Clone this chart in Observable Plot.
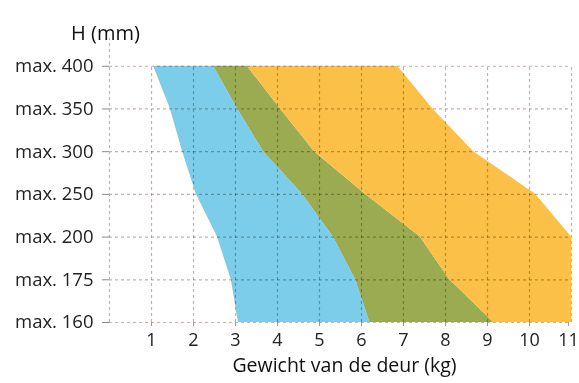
<!DOCTYPE html>
<html>
<head>
<meta charset="utf-8">
<script src="https://cdn.jsdelivr.net/npm/d3@7"></script>
<script src="https://cdn.jsdelivr.net/npm/@observablehq/plot@0.6"></script>
<style>
  html, body { margin: 0; padding: 0; background: #fff; }
  svg { display: block; }
</style>
</head>
<body>
<div id="chart"></div>
<script>
// Height categories, bottom to top
const levels = ["max. 160", "max. 175", "max. 200", "max. 250", "max. 300", "max. 350", "max. 400"];
// Band boundaries (door weight, kg) at each level
const blueLeft   = [3.07, 2.90, 2.57, 2.07, 1.74, 1.45, 1.05];
const greenLeft  = [6.20, 5.86, 5.33, 4.60, 3.67, 3.05, 2.48];
const orangeLeft = [9.15, 8.10, 7.40, 6.10, 4.88, 4.07, 3.28];
const orangeRight = [11, 11, 11, 10.15, 8.67, 7.70, 6.86];
const xTicks = [1, 2, 3, 4, 5, 6, 7, 8, 9, 10, 11];
const xLabel = "Gewicht van de deur (kg)";
const yLabel = "H (mm)";

const rows = levels.map((l, i) => ({
  i, bl: blueLeft[i], gl: greenLeft[i], ol: orangeLeft[i], or: orangeRight[i]
}));
const idx = levels.map((_, i) => i);
const gridColor = "#c4b3ab";
const font = "'Open Sans', Lato, sans-serif";

const chart = Plot.plot({
  width: 579,
  height: 383,
  marginLeft: 109,
  marginRight: 8,
  marginTop: 38,
  marginBottom: 61,
  style: { fontFamily: font, color: "#222", background: "#fff" },
  x: { domain: [0, 11], label: null },
  y: { domain: [0, 6.65], label: null },
  marks: [
    Plot.areaX(rows, { y: "i", x1: "bl", x2: "gl", fill: "#7ccde9" }),
    Plot.areaX(rows, { y: "i", x1: "gl", x2: "ol", fill: "#9aab52" }),
    Plot.areaX(rows, { y: "i", x1: "ol", x2: "or", fill: "#fbc048" }),
    Plot.ruleY(idx, { x1: 0, x2: 11, stroke: gridColor, strokeDasharray: "3,3", mixBlendMode: "multiply", strokeWidth: 1.2 }),
    Plot.ruleX(xTicks, { y1: 0, y2: 6, stroke: gridColor, strokeDasharray: "3,3", mixBlendMode: "multiply", strokeWidth: 1.2 }),
    Plot.ruleX([0], { y1: 0, y2: 6.65, stroke: gridColor, strokeDasharray: "3,3", strokeWidth: 1.2 }),
    Plot.axisY({ ticks: idx, tickFormat: i => levels[i], tickSize: 7, tickPadding: 9, fontSize: 18.5, stroke: "#8a8a8a", label: null }),
    Plot.axisX({ ticks: xTicks.slice(0, -1), tickFormat: d => d, tickSize: 4, tickPadding: 7, fontSize: 18, stroke: "#9a9a9a", label: null }),
    Plot.axisX({ ticks: xTicks.slice(-1), tickFormat: d => d, tickSize: 4, tickPadding: 7, fontSize: 18, stroke: "#9a9a9a", label: null, dx: -3 }),
    Plot.text([xLabel], { frameAnchor: "bottom", dx: 4, dy: 49, fontSize: 19.5, fill: "#111" }),
    Plot.text([yLabel], { frameAnchor: "top-left", textAnchor: "middle", dx: -4, dy: -13, fontSize: 20, fill: "#111" })
  ]
});
document.getElementById("chart").appendChild(chart);
</script>
</body>
</html>
